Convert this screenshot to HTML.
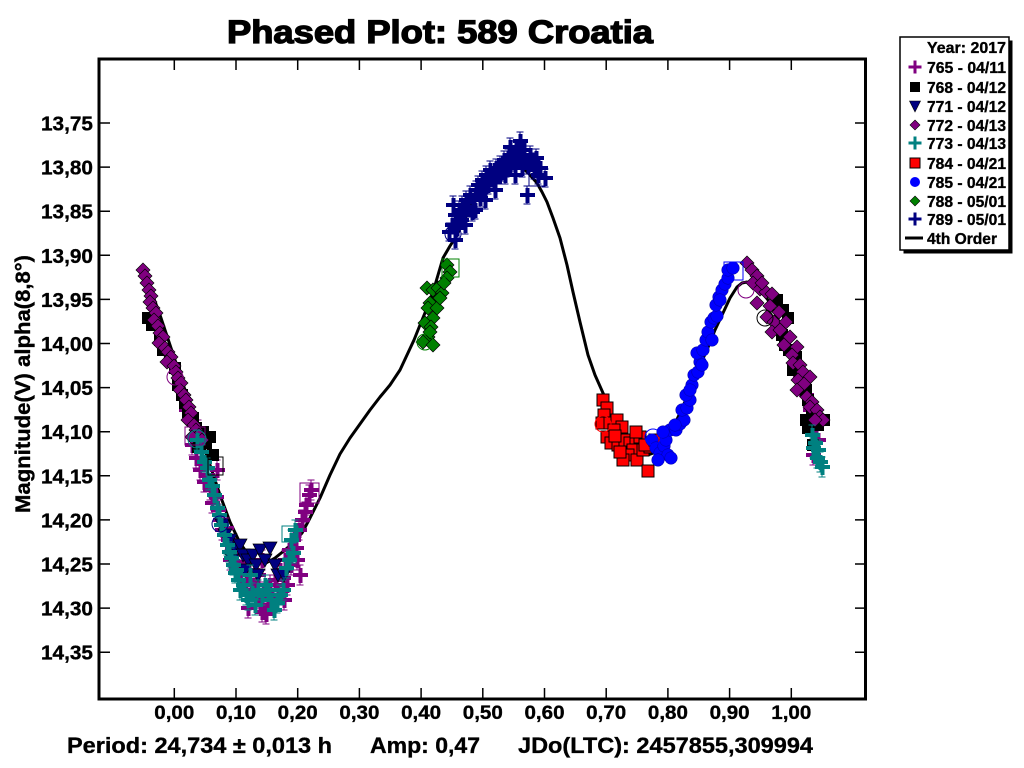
<!DOCTYPE html>
<html><head><meta charset="utf-8"><style>
html,body{margin:0;padding:0;background:#fff;}
svg{display:block;}
text{font-family:"Liberation Sans",Arial,sans-serif;font-weight:bold;fill:#000;stroke:#000;stroke-width:0.35px;}
</style></head><body>
<svg width="1024" height="768" viewBox="0 0 1024 768" xmlns="http://www.w3.org/2000/svg">
<defs>
<g id="P1" shape-rendering="crispEdges"><path d="M0-10V10M-3.5-10H3.5M-3.5 10H3.5" stroke="#800080" stroke-width="1.3" fill="none"/><path d="M-7-2h15v4h-15zM-1.5-7h4v15h-4z" fill="#800080"/></g>
<g id="P2" shape-rendering="crispEdges"><path d="M0-10V10M-3.5-10H3.5M-3.5 10H3.5" stroke="#008080" stroke-width="1.3" fill="none"/><path d="M-7-2h15v4h-15zM-1.5-7h4v15h-4z" fill="#008080"/></g>
<g id="P3" shape-rendering="crispEdges"><path d="M0-9V9M-3.5-9H3.5M-3.5 9H3.5" stroke="#000080" stroke-width="1.3" fill="none"/><path d="M-7-2h15v4h-15zM-1.5-7h4v15h-4z" fill="#000080"/></g>
<g id="S" shape-rendering="crispEdges"><rect x="-6" y="-6" width="12" height="12" fill="#000"/></g>
<g id="T"><path d="M-7-6H7L0 7Z" fill="#000080" stroke="#000" stroke-width=".7"/></g>
<g id="D"><path d="M0-7L7 0 0 7-7 0Z" fill="#800080" stroke="#000" stroke-width=".7"/></g>
<g id="R" shape-rendering="crispEdges"><rect x="-6" y="-6" width="12" height="12" fill="#f00" stroke="#000" stroke-width="1"/></g>
<g id="B"><circle r="6.3" fill="#0000ff" stroke="#0000a0" stroke-width=".5"/></g>
<g id="G"><path d="M0-7L7 0 0 7-7 0Z" fill="#008000" stroke="#000" stroke-width=".7"/></g>
</defs>

<!-- title -->
<text x="227" y="43" font-size="32" textLength="426" lengthAdjust="spacingAndGlyphs" style="stroke-width:1.3px">Phased Plot: 589 Croatia</text>

<!-- curve -->
<polyline fill="none" stroke="#000" stroke-width="3" stroke-linejoin="round" points="143,268 150,288 160,315 170,345 180,375 190,405 200,435 210,465 220,495 230,522 240,543 250,557 258,563 266,563 275,558 285,550 295,541 302,533 310,518 320,498 330,475 340,454 350,438 360,424 370,410 380,397 390,385 400,370 407,355 414,340 420,325 427,308 433,292 438,275 443,258 450,246 457,235 467,215 480,188 493,172 507,166 515,165 523,168 530,175 537,183 542,192 547,202 553,218 560,238 567,265 573,292 580,322 588,355 595,375 603,393 613,416 623,437 632,449 640,454 648,455 656,452 665,442 672,430 680,413 690,390 700,365 707,350 715,330 723,313 730,298 737,287 742,283 747,282 753,284 760,290 768,300 776,315 785,335 795,360 805,388 815,413 822,430"/>

<!-- 765 purple plus -->
<g>
<use href="#P1" x="192" y="445"/><use href="#P1" x="196" y="458"/><use href="#P1" x="200" y="470"/><use href="#P1" x="204" y="482"/><use href="#P1" x="207" y="475"/><use href="#P1" x="210" y="490"/><use href="#P1" x="212" y="503"/><use href="#P1" x="216" y="497"/><use href="#P1" x="218" y="510"/><use href="#P1" x="220" y="520"/><use href="#P1" x="222" y="530"/><use href="#P1" x="226" y="528"/><use href="#P1" x="228" y="540"/><use href="#P1" x="232" y="548"/><use href="#P1" x="230" y="560"/><use href="#P1" x="236" y="555"/><use href="#P1" x="238" y="566"/><use href="#P1" x="241" y="575"/><use href="#P1" x="244" y="562"/><use href="#P1" x="246" y="580"/><use href="#P1" x="249" y="570"/><use href="#P1" x="251" y="590"/><use href="#P1" x="254" y="585"/><use href="#P1" x="256" y="598"/><use href="#P1" x="258" y="575"/><use href="#P1" x="260" y="605"/><use href="#P1" x="262" y="612"/><use href="#P1" x="264" y="592"/><use href="#P1" x="266" y="614"/><use href="#P1" x="268" y="600"/><use href="#P1" x="270" y="585"/><use href="#P1" x="272" y="596"/><use href="#P1" x="275" y="580"/><use href="#P1" x="278" y="590"/><use href="#P1" x="280" y="570"/><use href="#P1" x="283" y="578"/><use href="#P1" x="285" y="560"/><use href="#P1" x="287" y="585"/><use href="#P1" x="289" y="550"/><use href="#P1" x="291" y="565"/><use href="#P1" x="293" y="540"/><use href="#P1" x="296" y="548"/><use href="#P1" x="299" y="530"/><use href="#P1" x="302" y="520"/><use href="#P1" x="306" y="505"/><use href="#P1" x="309" y="495"/><use href="#P1" x="311" y="490"/><use href="#P1" x="305" y="512"/><use href="#P1" x="297" y="560"/><use href="#P1" x="284" y="600"/><use href="#P1" x="262" y="560"/><use href="#P1" x="248" y="608"/><use href="#P1" x="198" y="430"/><use href="#P1" x="186" y="410"/><use href="#P1" x="300" y="575"/><use href="#P1" x="217" y="470"/>
<use href="#P1" x="800" y="378"/><use href="#P1" x="806" y="395"/><use href="#P1" x="810" y="410"/><use href="#P1" x="815" y="425"/><use href="#P1" x="818" y="440"/><use href="#P1" x="813" y="455"/>
</g>
<!-- 768 black squares -->
<g>
<use href="#S" x="148" y="318"/><use href="#S" x="152" y="325"/><use href="#S" x="160" y="340"/><use href="#S" x="163" y="350"/><use href="#S" x="170" y="360"/><use href="#S" x="175" y="368"/><use href="#S" x="178" y="385"/><use href="#S" x="182" y="395"/><use href="#S" x="185" y="403"/><use href="#S" x="188" y="412"/><use href="#S" x="193" y="418"/><use href="#S" x="196" y="428"/><use href="#S" x="203" y="432"/><use href="#S" x="210" y="437"/><use href="#S" x="206" y="443"/><use href="#S" x="198" y="447"/><use href="#S" x="213" y="455"/>
<use href="#S" x="777" y="300"/><use href="#S" x="783" y="310"/><use href="#S" x="788" y="318"/><use href="#S" x="782" y="335"/><use href="#S" x="785" y="345"/><use href="#S" x="789" y="350"/><use href="#S" x="796" y="357"/><use href="#S" x="793" y="370"/><use href="#S" x="800" y="375"/><use href="#S" x="806" y="390"/><use href="#S" x="808" y="400"/><use href="#S" x="812" y="412"/><use href="#S" x="806" y="420"/><use href="#S" x="815" y="418"/><use href="#S" x="818" y="425"/><use href="#S" x="824" y="420"/><use href="#S" x="808" y="428"/><use href="#S" x="813" y="445"/>
</g>
<!-- 771 navy triangles -->
<g>
<use href="#T" x="222" y="525"/><use href="#T" x="225" y="535"/><use href="#T" x="230" y="540"/><use href="#T" x="235" y="548"/><use href="#T" x="240" y="545"/><use href="#T" x="243" y="555"/><use href="#T" x="248" y="560"/><use href="#T" x="253" y="555"/><use href="#T" x="256" y="565"/><use href="#T" x="260" y="550"/><use href="#T" x="265" y="560"/><use href="#T" x="270" y="548"/><use href="#T" x="275" y="565"/><use href="#T" x="278" y="575"/><use href="#T" x="284" y="575"/><use href="#T" x="258" y="575"/><use href="#T" x="245" y="570"/><use href="#T" x="232" y="560"/>
</g>
<!-- 772 purple diamonds -->
<g>
<use href="#D" x="143" y="270"/><use href="#D" x="145" y="276"/><use href="#D" x="147" y="283"/><use href="#D" x="149" y="290"/><use href="#D" x="151" y="296"/><use href="#D" x="150" y="302"/><use href="#D" x="153" y="308"/><use href="#D" x="156" y="313"/><use href="#D" x="154" y="320"/><use href="#D" x="158" y="326"/><use href="#D" x="160" y="333"/><use href="#D" x="163" y="337"/><use href="#D" x="159" y="343"/><use href="#D" x="165" y="348"/><use href="#D" x="168" y="352"/><use href="#D" x="171" y="357"/><use href="#D" x="167" y="362"/><use href="#D" x="174" y="366"/><use href="#D" x="176" y="372"/><use href="#D" x="178" y="378"/><use href="#D" x="181" y="383"/><use href="#D" x="180" y="390"/><use href="#D" x="184" y="395"/><use href="#D" x="186" y="400"/><use href="#D" x="189" y="407"/><use href="#D" x="191" y="413"/><use href="#D" x="188" y="420"/><use href="#D" x="194" y="425"/><use href="#D" x="196" y="430"/><use href="#D" x="199" y="435"/><use href="#D" x="192" y="437"/><use href="#D" x="202" y="440"/>
<use href="#D" x="747" y="263"/><use href="#D" x="752" y="270"/><use href="#D" x="757" y="276"/><use href="#D" x="753" y="283"/><use href="#D" x="760" y="289"/><use href="#D" x="766" y="292"/><use href="#D" x="772" y="294"/><use href="#D" x="757" y="303"/><use href="#D" x="770" y="306"/><use href="#D" x="779" y="312"/><use href="#D" x="767" y="317"/><use href="#D" x="774" y="322"/><use href="#D" x="786" y="322"/><use href="#D" x="772" y="332"/><use href="#D" x="780" y="330"/><use href="#D" x="790" y="337"/><use href="#D" x="784" y="345"/><use href="#D" x="797" y="347"/><use href="#D" x="792" y="355"/><use href="#D" x="793" y="363"/><use href="#D" x="800" y="365"/><use href="#D" x="803" y="372"/><use href="#D" x="810" y="377"/><use href="#D" x="798" y="380"/><use href="#D" x="804" y="384"/><use href="#D" x="797" y="390"/><use href="#D" x="807" y="397"/><use href="#D" x="812" y="402"/><use href="#D" x="810" y="407"/><use href="#D" x="817" y="410"/><use href="#D" x="820" y="417"/><use href="#D" x="823" y="420"/><use href="#D" x="815" y="420"/><use href="#D" x="762" y="283"/>
</g>
<!-- 773 teal plus -->
<g>
<use href="#P2" x="197" y="440"/><use href="#P2" x="201" y="452"/><use href="#P2" x="204" y="462"/><use href="#P2" x="207" y="468"/><use href="#P2" x="209" y="480"/><use href="#P2" x="212" y="486"/><use href="#P2" x="214" y="495"/><use href="#P2" x="217" y="508"/><use href="#P2" x="219" y="515"/><use href="#P2" x="221" y="525"/><use href="#P2" x="224" y="535"/><use href="#P2" x="227" y="545"/><use href="#P2" x="229" y="552"/><use href="#P2" x="233" y="565"/><use href="#P2" x="235" y="573"/><use href="#P2" x="238" y="580"/><use href="#P2" x="240" y="590"/><use href="#P2" x="243" y="585"/><use href="#P2" x="246" y="595"/><use href="#P2" x="248" y="600"/><use href="#P2" x="252" y="593"/><use href="#P2" x="255" y="605"/><use href="#P2" x="258" y="590"/><use href="#P2" x="262" y="595"/><use href="#P2" x="265" y="585"/><use href="#P2" x="268" y="590"/><use href="#P2" x="271" y="600"/><use href="#P2" x="274" y="610"/><use href="#P2" x="277" y="603"/><use href="#P2" x="280" y="595"/><use href="#P2" x="283" y="590"/><use href="#P2" x="286" y="568"/><use href="#P2" x="289" y="560"/><use href="#P2" x="293" y="553"/><use href="#P2" x="291" y="540"/><use href="#P2" x="295" y="530"/><use href="#P2" x="236" y="570"/><use href="#P2" x="250" y="575"/><use href="#P2" x="231" y="558"/>
<use href="#P2" x="812" y="435"/><use href="#P2" x="815" y="443"/><use href="#P2" x="818" y="450"/><use href="#P2" x="820" y="462"/><use href="#P2" x="822" y="467"/><use href="#P2" x="817" y="458"/><use href="#P2" x="813" y="448"/>
</g>
<!-- 784 red squares -->
<g>
<use href="#R" x="603" y="400"/><use href="#R" x="607" y="408"/><use href="#R" x="604" y="415"/><use href="#R" x="602" y="423"/><use href="#R" x="610" y="423"/><use href="#R" x="617" y="420"/><use href="#R" x="622" y="427"/><use href="#R" x="614" y="430"/><use href="#R" x="607" y="437"/><use href="#R" x="611" y="443"/><use href="#R" x="618" y="445"/><use href="#R" x="625" y="440"/><use href="#R" x="630" y="443"/><use href="#R" x="636" y="440"/><use href="#R" x="640" y="437"/><use href="#R" x="633" y="450"/><use href="#R" x="628" y="455"/><use href="#R" x="623" y="460"/><use href="#R" x="637" y="460"/><use href="#R" x="643" y="450"/><use href="#R" x="648" y="471"/><use href="#R" x="650" y="447"/><use href="#R" x="645" y="445"/><use href="#R" x="620" y="452"/><use href="#R" x="615" y="436"/><use href="#R" x="636" y="432"/><use href="#R" x="655" y="440"/>
</g>
<!-- 785 blue circles -->
<g>
<use href="#B" x="652" y="440"/><use href="#B" x="656" y="448"/><use href="#B" x="660" y="453"/><use href="#B" x="664" y="446"/><use href="#B" x="668" y="455"/><use href="#B" x="671" y="458"/><use href="#B" x="666" y="440"/><use href="#B" x="670" y="430"/><use href="#B" x="676" y="430"/><use href="#B" x="680" y="424"/><use href="#B" x="684" y="420"/><use href="#B" x="682" y="410"/><use href="#B" x="687" y="408"/><use href="#B" x="690" y="400"/><use href="#B" x="686" y="395"/><use href="#B" x="692" y="385"/><use href="#B" x="694" y="375"/><use href="#B" x="698" y="372"/><use href="#B" x="700" y="362"/><use href="#B" x="697" y="353"/><use href="#B" x="703" y="350"/><use href="#B" x="706" y="340"/><use href="#B" x="708" y="332"/><use href="#B" x="711" y="322"/><use href="#B" x="714" y="318"/><use href="#B" x="717" y="316"/><use href="#B" x="716" y="305"/><use href="#B" x="719" y="297"/><use href="#B" x="722" y="290"/><use href="#B" x="725" y="284"/><use href="#B" x="728" y="278"/><use href="#B" x="728" y="270"/><use href="#B" x="733" y="268"/><use href="#B" x="720" y="300"/><use href="#B" x="712" y="340"/><use href="#B" x="702" y="365"/><use href="#B" x="690" y="390"/><use href="#B" x="675" y="425"/><use href="#B" x="663" y="432"/><use href="#B" x="658" y="460"/>
</g>
<!-- 788 green diamonds -->
<g>
<use href="#G" x="427" y="288"/><use href="#G" x="433" y="290"/><use href="#G" x="438" y="288"/><use href="#G" x="442" y="293"/><use href="#G" x="437" y="300"/><use href="#G" x="430" y="303"/><use href="#G" x="428" y="308"/><use href="#G" x="437" y="308"/><use href="#G" x="433" y="318"/><use href="#G" x="425" y="323"/><use href="#G" x="431" y="327"/><use href="#G" x="428" y="337"/><use href="#G" x="423" y="342"/><use href="#G" x="433" y="345"/><use href="#G" x="430" y="332"/><use href="#G" x="447" y="265"/><use href="#G" x="450" y="272"/><use href="#G" x="447" y="278"/><use href="#G" x="444" y="283"/><use href="#G" x="440" y="298"/>
</g>
<!-- 789 navy plus -->
<g>
<use href="#P3" x="449" y="232"/><use href="#P3" x="452" y="225"/><use href="#P3" x="455" y="215"/><use href="#P3" x="457" y="228"/><use href="#P3" x="459" y="210"/><use href="#P3" x="462" y="205"/><use href="#P3" x="464" y="215"/><use href="#P3" x="461" y="220"/><use href="#P3" x="466" y="200"/><use href="#P3" x="468" y="208"/><use href="#P3" x="470" y="195"/><use href="#P3" x="472" y="212"/><use href="#P3" x="474" y="200"/><use href="#P3" x="476" y="190"/><use href="#P3" x="478" y="185"/><use href="#P3" x="480" y="198"/><use href="#P3" x="482" y="180"/><use href="#P3" x="484" y="190"/><use href="#P3" x="486" y="175"/><use href="#P3" x="488" y="185"/><use href="#P3" x="490" y="170"/><use href="#P3" x="492" y="178"/><use href="#P3" x="494" y="182"/><use href="#P3" x="496" y="168"/><use href="#P3" x="498" y="175"/><use href="#P3" x="500" y="165"/><use href="#P3" x="502" y="172"/><use href="#P3" x="504" y="160"/><use href="#P3" x="506" y="168"/><use href="#P3" x="508" y="158"/><use href="#P3" x="510" y="165"/><use href="#P3" x="512" y="155"/><use href="#P3" x="514" y="162"/><use href="#P3" x="516" y="150"/><use href="#P3" x="518" y="160"/><use href="#P3" x="520" y="158"/><use href="#P3" x="522" y="168"/><use href="#P3" x="524" y="150"/><use href="#P3" x="526" y="160"/><use href="#P3" x="528" y="165"/><use href="#P3" x="530" y="155"/><use href="#P3" x="532" y="162"/><use href="#P3" x="534" y="170"/><use href="#P3" x="536" y="158"/><use href="#P3" x="538" y="175"/><use href="#P3" x="540" y="168"/><use href="#P3" x="527" y="195"/><use href="#P3" x="520" y="141"/><use href="#P3" x="515" y="175"/><use href="#P3" x="505" y="175"/><use href="#P3" x="495" y="190"/><use href="#P3" x="485" y="200"/><use href="#P3" x="475" y="210"/><use href="#P3" x="465" y="225"/><use href="#P3" x="455" y="240"/><use href="#P3" x="453" y="205"/><use href="#P3" x="510" y="147"/><use href="#P3" x="545" y="178"/>
</g>
<!-- open markers -->
<g fill="none" stroke-width="1">
<circle cx="175" cy="377" r="8" stroke="#800080"/>
<rect x="185" y="427" width="20" height="18" stroke="#800080"/>
<circle cx="197" cy="439" r="9" stroke="#008080"/>
<rect x="208" y="457" width="15" height="18" stroke="#000"/>
<circle cx="220" cy="524" r="8" stroke="#000080"/>
<rect x="300" y="483" width="19" height="20" stroke="#800080"/>
<rect x="282" y="526" width="16" height="16" stroke="#008080"/>
<circle cx="453" cy="234" r="8" stroke="#000080"/>
<rect x="442" y="259" width="17" height="18" stroke="#008000"/>
<circle cx="425" cy="342" r="8" stroke="#008000"/>
<rect x="529" y="168" width="16" height="18" stroke="#000080"/>
<circle cx="603" cy="424" r="8" stroke="#ff0000"/>
<circle cx="653" cy="437" r="8" stroke="#0000ff"/>
<rect x="724" y="262" width="19" height="18" stroke="#0000ff"/>
<circle cx="746" cy="290" r="8" stroke="#800080"/>
<circle cx="765" cy="318" r="8" stroke="#000"/>
</g>

<!-- frame -->
<rect x="99" y="59" width="766.5" height="640" fill="none" stroke="#000" stroke-width="3"/>
<!-- ticks -->
<path stroke="#000" stroke-width="1.5" d="M100 123h10M100 167.1h10M100 211.2h10M100 255.3h10M100 299.4h10M100 343.5h10M100 387.6h10M100 431.7h10M100 475.8h10M100 519.9h10M100 564h10M100 608.1h10M100 652.2h10
M865 123h-10M865 167.1h-10M865 211.2h-10M865 255.3h-10M865 299.4h-10M865 343.5h-10M865 387.6h-10M865 431.7h-10M865 475.8h-10M865 519.9h-10M865 564h-10M865 608.1h-10M865 652.2h-10
M174.3 698v-10M236 698v-10M297.7 698v-10M359.4 698v-10M421.1 698v-10M482.8 698v-10M544.5 698v-10M606.2 698v-10M667.9 698v-10M729.6 698v-10M791.3 698v-10
M174.3 60v10M236 60v10M297.7 60v10M359.4 60v10M421.1 60v10M482.8 60v10M544.5 60v10M606.2 60v10M667.9 60v10M729.6 60v10M791.3 60v10"/>

<!-- y tick labels -->
<g font-size="20" text-anchor="end">
<text x="93" y="130.5" textLength="52" lengthAdjust="spacingAndGlyphs">13,75</text>
<text x="93" y="174.6" textLength="52" lengthAdjust="spacingAndGlyphs">13,80</text>
<text x="93" y="218.7" textLength="52" lengthAdjust="spacingAndGlyphs">13,85</text>
<text x="93" y="262.8" textLength="52" lengthAdjust="spacingAndGlyphs">13,90</text>
<text x="93" y="306.9" textLength="52" lengthAdjust="spacingAndGlyphs">13,95</text>
<text x="93" y="351" textLength="52" lengthAdjust="spacingAndGlyphs">14,00</text>
<text x="93" y="395.1" textLength="52" lengthAdjust="spacingAndGlyphs">14,05</text>
<text x="93" y="439.2" textLength="52" lengthAdjust="spacingAndGlyphs">14,10</text>
<text x="93" y="483.3" textLength="52" lengthAdjust="spacingAndGlyphs">14,15</text>
<text x="93" y="527.4" textLength="52" lengthAdjust="spacingAndGlyphs">14,20</text>
<text x="93" y="571.5" textLength="52" lengthAdjust="spacingAndGlyphs">14,25</text>
<text x="93" y="615.6" textLength="52" lengthAdjust="spacingAndGlyphs">14,30</text>
<text x="93" y="659.7" textLength="52" lengthAdjust="spacingAndGlyphs">14,35</text>
</g>
<!-- x tick labels -->
<g font-size="19" text-anchor="middle">
<text x="174.3" y="719" textLength="40" lengthAdjust="spacingAndGlyphs">0,00</text>
<text x="236" y="719" textLength="40" lengthAdjust="spacingAndGlyphs">0,10</text>
<text x="297.7" y="719" textLength="40" lengthAdjust="spacingAndGlyphs">0,20</text>
<text x="359.4" y="719" textLength="40" lengthAdjust="spacingAndGlyphs">0,30</text>
<text x="421.1" y="719" textLength="40" lengthAdjust="spacingAndGlyphs">0,40</text>
<text x="482.8" y="719" textLength="40" lengthAdjust="spacingAndGlyphs">0,50</text>
<text x="544.5" y="719" textLength="40" lengthAdjust="spacingAndGlyphs">0,60</text>
<text x="606.2" y="719" textLength="40" lengthAdjust="spacingAndGlyphs">0,70</text>
<text x="667.9" y="719" textLength="40" lengthAdjust="spacingAndGlyphs">0,80</text>
<text x="729.6" y="719" textLength="40" lengthAdjust="spacingAndGlyphs">0,90</text>
<text x="791.3" y="719" textLength="40" lengthAdjust="spacingAndGlyphs">1,00</text>
</g>

<!-- y axis label -->
<text transform="translate(30,384) rotate(-90)" font-size="21" text-anchor="middle" textLength="258" lengthAdjust="spacingAndGlyphs">Magnitude(V) alpha(8,8°)</text>

<!-- bottom info -->
<g font-size="22">
<text x="67" y="753" textLength="265" lengthAdjust="spacingAndGlyphs">Period: 24,734 ± 0,013 h</text>
<text x="370" y="753" textLength="110" lengthAdjust="spacingAndGlyphs">Amp: 0,47</text>
<text x="518" y="753" textLength="295" lengthAdjust="spacingAndGlyphs">JDo(LTC): 2457855,309994</text>
</g>

<!-- legend -->
<rect x="903.5" y="40.5" width="109" height="213" fill="#000"/>
<rect x="900" y="37" width="109" height="213" fill="#fff" stroke="#000" stroke-width="1.5"/>
<g font-size="16">
<text x="927" y="53" textLength="79" lengthAdjust="spacingAndGlyphs">Year: 2017</text>
<text x="927" y="73" textLength="79" lengthAdjust="spacingAndGlyphs">765 - 04/11</text>
<text x="927" y="93" textLength="79" lengthAdjust="spacingAndGlyphs">768 - 04/12</text>
<text x="927" y="112" textLength="79" lengthAdjust="spacingAndGlyphs">771 - 04/12</text>
<text x="927" y="131" textLength="79" lengthAdjust="spacingAndGlyphs">772 - 04/13</text>
<text x="927" y="149" textLength="79" lengthAdjust="spacingAndGlyphs">773 - 04/13</text>
<text x="927" y="169" textLength="79" lengthAdjust="spacingAndGlyphs">784 - 04/21</text>
<text x="927" y="188" textLength="79" lengthAdjust="spacingAndGlyphs">785 - 04/21</text>
<text x="927" y="207" textLength="79" lengthAdjust="spacingAndGlyphs">788 - 05/01</text>
<text x="927" y="225" textLength="79" lengthAdjust="spacingAndGlyphs">789 - 05/01</text>
<text x="927" y="244" textLength="70" lengthAdjust="spacingAndGlyphs">4th Order</text>
</g>
<path d="M908.5 65.5h13v3h-13zM913.5 60.5h3v13h-3z" fill="#800080"/>
<rect x="910" y="82" width="10" height="10" fill="#000"/>
<path d="M909.5 101H920.5L915 112Z" fill="#000080" stroke="#000" stroke-width=".6"/>
<path d="M915 120L920 125 915 130 910 125Z" fill="#800080" stroke="#000" stroke-width=".6"/>
<path d="M908.5 141.5h13v3h-13zM913.5 136.5h3v13h-3z" fill="#008080"/>
<rect x="910" y="158" width="10" height="10" fill="#f00" stroke="#000" stroke-width="1"/>
<circle cx="915" cy="182" r="5" fill="#0000ff"/>
<path d="M915 196L920 201 915 206 910 201Z" fill="#008000" stroke="#000" stroke-width=".6"/>
<path d="M908.5 217.5h13v3h-13zM913.5 212.5h3v13h-3z" fill="#000080"/>
<path d="M905 238h18" stroke="#000" stroke-width="3"/>
</svg>
</body></html>
